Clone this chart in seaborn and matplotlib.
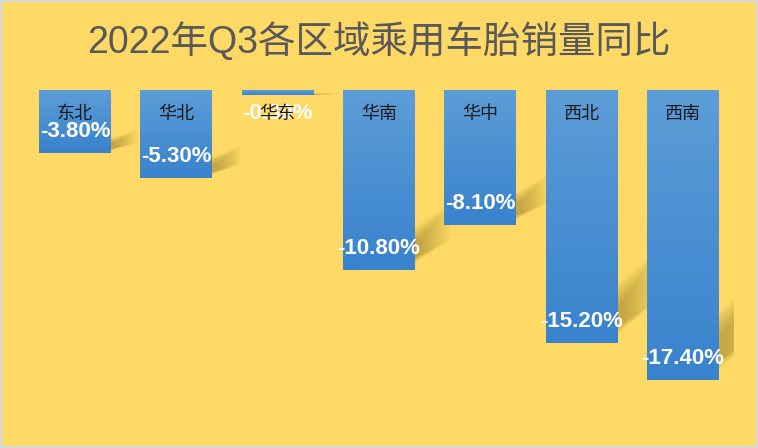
import numpy as np
import pandas as pd
import matplotlib
matplotlib.use("Agg")
import matplotlib.pyplot as plt
import seaborn as sns
from matplotlib.patches import Polygon, Rectangle
from matplotlib.colors import LinearSegmentedColormap

# ---- data ----
title = "2022年Q3各区域乘用车胎销量同比"
regions = ["东北", "华北", "华东", "华南", "华中", "西北", "西南"]
yoy = [-3.8, -5.3, -0.3, -10.8, -8.1, -15.2, -17.4]

BG = "#FFD966"

sns.set_theme(style="white")
plt.rcParams["font.family"] = ["Liberation Sans", "Noto Sans CJK SC", "DejaVu Sans"]

fig = plt.figure(figsize=(7.58, 4.48), dpi=100, facecolor=BG)
ax = fig.add_axes([0.0321, 0.0179, 0.9357, 0.78125])
ax.set_facecolor("none")

df = pd.DataFrame({"region": regions, "yoy": yoy})
sns.barplot(data=df, x="region", y="yoy", color="#4A8FD2", width=0.71,
            saturation=1, edgecolor="none", linewidth=0, ax=ax, zorder=3)

# gradient fill for bars
cmap = LinearSegmentedColormap.from_list("g", ["#5D9DD7", "#3982CD"])
grad = np.linspace(0, 1, 256).reshape(-1, 1)
for p in list(ax.patches):
    bb = p.get_bbox()
    x0, x1 = bb.x0, bb.x1
    y0, y1 = min(bb.y0, bb.y1), max(bb.y0, bb.y1)
    im = ax.imshow(grad, cmap=cmap, extent=(x0, x1, y0, y1), origin="upper",
                   aspect="auto", zorder=4)
    im.set_clip_path(p)

    # soft perspective shadow to the right of each bar
    h = y1 - y0
    v = y0
    xr = x1
    dx = 0.22 + 0.012 * h
    rise = 0.15 * h
    lo, hi = 0.02 * h, 0.22 * h
    n = 24
    for k in range(n):
        f = 1 - 0.85 * k / n
        inset = (hi - lo) * 0.4 * (k / n)
        pts = [(xr - 0.05, v + lo + inset * 0.5),
               (xr - 0.05, v + hi - inset),
               (xr + dx * f, v + hi - inset + rise * f),
               (xr + dx * f, v + lo + inset * 0.5 + rise * f)]
        ax.add_patch(Polygon(pts, closed=True, fc="#3a2a00", ec="none",
                             alpha=0.013, zorder=2))

# labels
for i, (name, v) in enumerate(zip(regions, yoy)):
    ax.text(i, -1.45, name, ha="center", va="center", fontsize=13,
            color="#1a1a1a", family=["Noto Sans CJK SC"], zorder=7)
    ly = v + 1.3 if abs(v) > 2 else -1.4
    ax.text(i, ly, f"{v:.2f}%", ha="center", va="center", fontsize=16,
            color="white", fontweight="bold", family=["Liberation Sans"], zorder=6)

ax.set_xlim(-0.5, 6.5)
ax.set_ylim(-21, 0)
ax.axis("off")

fig.text(0.5, 1 - 42 / 448, title, ha="center", va="center", fontsize=27,
         color="#595959", family=["Liberation Sans", "Noto Sans CJK SC"])

fig.patches.append(Rectangle((0, 0), 1, 1, transform=fig.transFigure, fill=False,
                             ec="#d6d6d6", lw=3, zorder=10))

fig.savefig("out.png", dpi=100, facecolor=BG)
